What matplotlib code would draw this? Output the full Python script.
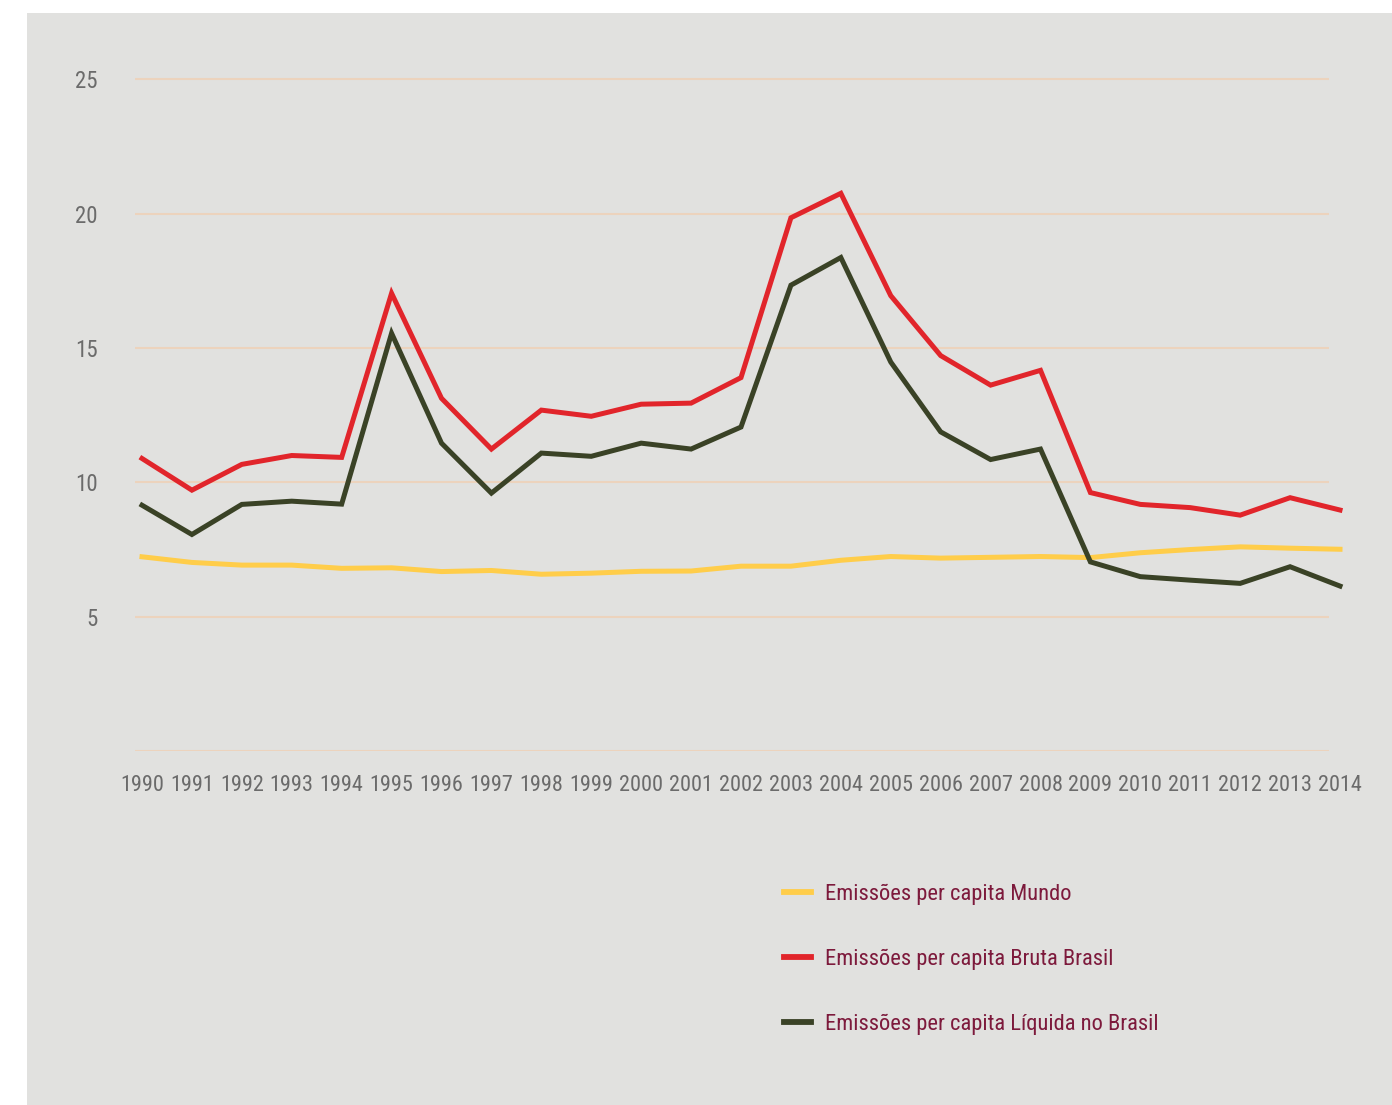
import matplotlib
matplotlib.use('Agg')
from matplotlib import pyplot as plt
from matplotlib.patches import Rectangle

plt.rcParams['font.family'] = ['Roboto Condensed', 'Liberation Sans Narrow', 'Roboto', 'DejaVu Sans']

YEARS = list(range(1990, 2015))

MUNDO = [7.23, 7.02, 6.92, 6.92, 6.80, 6.82, 6.68, 6.72, 6.58, 6.62, 6.69, 6.70, 6.88, 6.88, 7.10,
         7.24, 7.18, 7.21, 7.24, 7.20, 7.38, 7.50, 7.60, 7.55, 7.51]
BRUTA = [10.89, 9.71, 10.67, 11.00, 10.93, 17.04, 13.13, 11.24, 12.69, 12.46, 12.91, 12.95, 13.90,
         19.85, 20.76, 16.95, 14.72, 13.62, 14.17, 9.62, 9.18, 9.06, 8.78, 9.43, 8.97]
LIQUIDA = [9.15, 8.06, 9.18, 9.30, 9.19, 15.55, 11.46, 9.60, 11.09, 10.97, 11.46, 11.24, 12.06,
           17.34, 18.37, 14.48, 11.88, 10.85, 11.24, 7.04, 6.49, 6.36, 6.24, 6.86, 6.14]

LABELS = ['Emissões per capita Mundo',
          'Emissões per capita Bruta Brasil',
          'Emissões per capita Líquida no Brasil']
COLORS = ['#ffcd4a', '#e1252b', '#3a4226']
Y_TICKS = [5, 10, 15, 20, 25]

BG = '#e1e1df'
GRID = '#ecd3bd'
TICK_COLOR = '#6b6b6b'
LEGEND_COLOR = '#7d1a3c'

fig = plt.figure(figsize=(13.92, 11.05), dpi=100)
fig.patch.set_facecolor('white')
fig.patches.append(Rectangle((27 / 1392, 0), 1 - 27 / 1392, 1 - 13 / 1105,
                             transform=fig.transFigure, facecolor=BG,
                             edgecolor='none', zorder=-10))

ax = fig.add_axes([135 / 1392, 354 / 1105, 1210 / 1392, 685 / 1105])
ax.set_facecolor('none')
for s in ax.spines.values():
    s.set_visible(False)

ax.set_xlim(1989.86, 2014.10)
ax.set_ylim(0, 25.5)

# gridlines stop a bit before the last year
ax.hlines([0] + Y_TICKS, 1989.86, 2013.77, color=GRID, linewidth=1.5, zorder=1)

for vals, color, label in zip([MUNDO, BRUTA, LIQUIDA], COLORS, LABELS):
    ax.plot(YEARS, vals, color=color, linewidth=3.6, label=label,
            solid_joinstyle='miter', zorder=3)

ax.set_xticks(YEARS, [str(y) for y in YEARS])
ax.set_yticks(Y_TICKS, [str(y) for y in Y_TICKS])
ax.tick_params(axis='both', length=0, labelcolor=TICK_COLOR)
ax.tick_params(axis='y', pad=27, labelsize=16.5)
ax.tick_params(axis='x', pad=17.5, labelsize=16)

leg = fig.legend(loc='upper left', bbox_to_anchor=(775 / 1392, 1 - 875 / 1105),
                 frameon=False, fontsize=16.2, handlelength=1.2, handletextpad=0.62,
                 labelspacing=1.95, borderaxespad=0)
for t in leg.get_texts():
    t.set_color(LEGEND_COLOR)
for h in leg.get_lines():
    h.set_linewidth(4.2)

fig.savefig('out.png', dpi=100, facecolor=fig.get_facecolor())
